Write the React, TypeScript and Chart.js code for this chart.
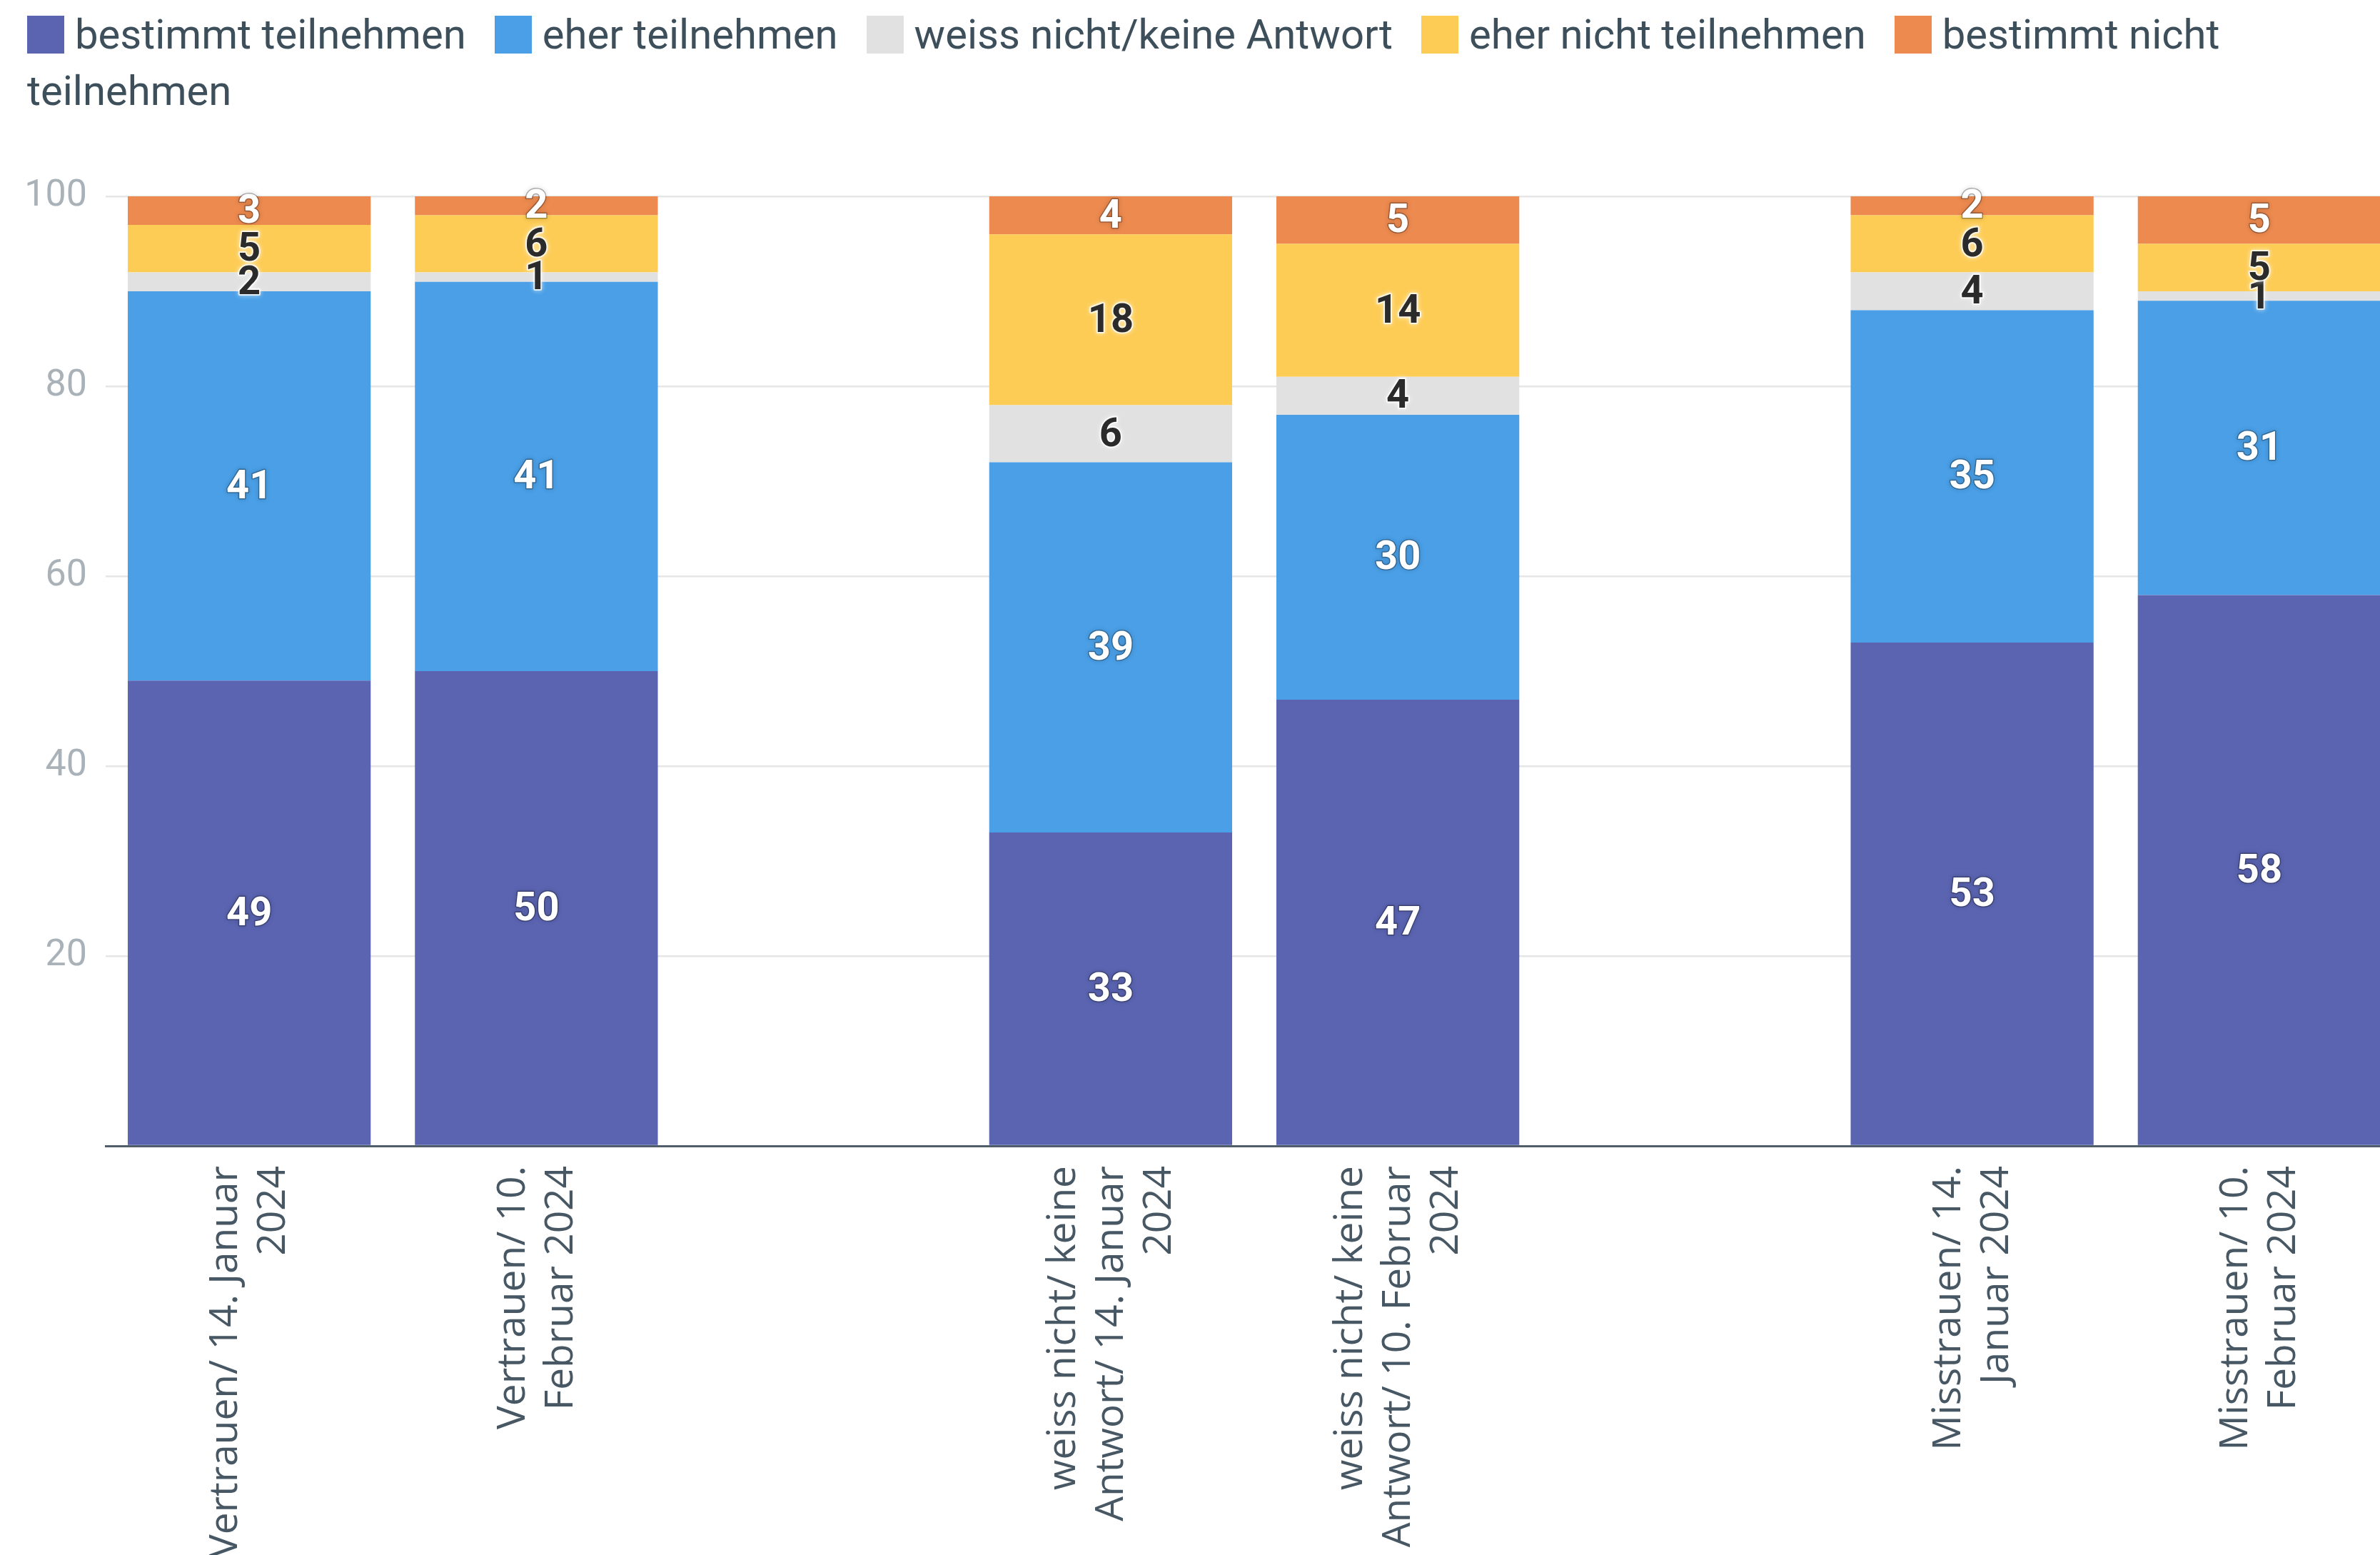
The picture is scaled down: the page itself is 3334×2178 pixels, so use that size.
import React, { useEffect, useRef } from "react";
import { Chart, registerables } from "chart.js";

Chart.register(...registerables);

// ---------- data ----------
const categories: string[][] = [
  ["Vertrauen/ 14. Januar", "2024"],
  ["Vertrauen/ 10.", "Februar 2024"],
  [],
  ["weiss nicht/ keine", "Antwort/ 14. Januar", "2024"],
  ["weiss nicht/ keine", "Antwort/ 10. Februar", "2024"],
  [],
  ["Misstrauen/ 14.", "Januar 2024"],
  ["Misstrauen/ 10.", "Februar 2024"],
];

const seriesNames = [
  "bestimmt teilnehmen",
  "eher teilnehmen",
  "weiss nicht/keine Antwort",
  "eher nicht teilnehmen",
  "bestimmt nicht teilnehmen",
];

const bestimmtTeilnehmen = [49, 50, null, 33, 47, null, 53, 58];
const eherTeilnehmen = [41, 41, null, 39, 30, null, 35, 31];
const weissNicht = [2, 1, null, 6, 4, null, 4, 1];
const eherNichtTeilnehmen = [5, 6, null, 18, 14, null, 6, 5];
const bestimmtNichtTeilnehmen = [3, 2, null, 4, 5, null, 2, 5];

const seriesValues = [
  bestimmtTeilnehmen,
  eherTeilnehmen,
  weissNicht,
  eherNichtTeilnehmen,
  bestimmtNichtTeilnehmen,
];

const seriesColors = ["#5a64b1", "#4a9fe6", "#e1e1e1", "#fdcc55", "#ed8a4f"];
const labelIsDark = [false, false, true, true, false];

const yMin = 0;
const yMax = 100;
const yStep = 20;

// ---------- plugins ----------
const xLabelPlugin = {
  id: "xLabelPlugin",
  afterDraw(chart: any) {
    const { ctx } = chart;
    const x = chart.scales.x;
    const lh = 67;
    ctx.save();
    ctx.font = '55px "Open Sans"';
    ctx.fillStyle = "#475864";
    ctx.textAlign = "right";
    ctx.textBaseline = "middle";
    categories.forEach((lines, i) => {
      if (!lines.length) return;
      const px = x.getPixelForValue(i);
      const n = lines.length;
      lines.forEach((line, k) => {
        ctx.save();
        ctx.translate(px + (k - (n - 1) / 2) * lh + 1, x.top + 28);
        ctx.rotate(-Math.PI / 2);
        ctx.fillText(line, 0, 0);
        ctx.restore();
      });
    });
    ctx.restore();
  },
};

const dataLabelPlugin = {
  id: "dataLabelPlugin",
  afterDatasetsDraw(chart: any) {
    const { ctx } = chart;
    ctx.save();
    ctx.font = 'bold 56px Roboto';
    ctx.textAlign = "center";
    ctx.textBaseline = "middle";
    ctx.lineJoin = "round";
    chart.data.datasets.forEach((ds: any, di: number) => {
      const meta = chart.getDatasetMeta(di);
      meta.data.forEach((el: any, i: number) => {
        const v = ds.data[i];
        if (v == null) return;
        const p = el.getProps(["x", "y", "base"], true);
        const cy = (p.y + p.base) / 2 + 3;
        const txt = String(v);
        if (labelIsDark[di]) {
          ctx.shadowColor = "rgba(255,255,255,0.9)";
          ctx.shadowBlur = 6;
          ctx.strokeStyle = "rgba(255,255,255,0.75)";
          ctx.lineWidth = 4;
          ctx.strokeText(txt, p.x, cy);
          ctx.shadowBlur = 0;
          ctx.fillStyle = "#2b2b2b";
          ctx.fillText(txt, p.x, cy);
        } else {
          ctx.shadowColor = "rgba(0,0,0,0.6)";
          ctx.shadowBlur = 6;
          ctx.strokeStyle = "rgba(0,0,0,0.3)";
          ctx.lineWidth = 3;
          ctx.strokeText(txt, p.x, cy);
          ctx.shadowBlur = 0;
          ctx.fillStyle = "#ffffff";
          ctx.fillText(txt, p.x, cy);
        }
      });
    });
    ctx.restore();
  },
};

const CANVAS_W = 3400;
const CANVAS_H = 2178;

export default function App() {
  const ref = useRef<HTMLCanvasElement | null>(null);

  useEffect(() => {
    if (!ref.current) return;
    const chart = new Chart(ref.current, {
      type: "bar",
      data: {
        labels: categories.map((c, i) => (c.length ? c.join(" ") : " ".repeat(i + 1))),
        datasets: seriesNames.map((name, i) => ({
          label: name,
          data: seriesValues[i],
          backgroundColor: seriesColors[i],
          borderWidth: 0,
          categoryPercentage: 1,
          barPercentage: 0.846,
        })),
      },
      options: {
        responsive: false,
        animation: false,
        events: [],
        layout: { padding: { left: 0, right: 34, top: 275, bottom: CANVAS_H - 1605 } },
        plugins: { legend: { display: false }, tooltip: { enabled: false }, title: { display: false } },
        scales: {
          x: {
            stacked: true,
            grid: { display: false, drawTicks: false },
            ticks: { display: false },
            border: { display: true, color: "#4f5e6a", width: 3 },
          },
          y: {
            stacked: true,
            min: yMin,
            max: yMax,
            ticks: {
              stepSize: yStep,
              padding: 26,
              color: "#a9b2b8",
              font: { family: "Roboto", size: 52 },
              callback: (v: any) => (v === 0 ? "" : String(v)),
            },
            grid: { color: "#e6e6e6", lineWidth: 2.5, drawTicks: false },
            border: { display: false },
            afterFit: (s: any) => {
              s.width = 148;
            },
          },
        },
      } as any,
      plugins: [dataLabelPlugin, xLabelPlugin],
    });
    return () => chart.destroy();
  }, []);

  return (
    <div style={{ position: "relative", width: 3334, height: 2178, overflow: "hidden", background: "#fff" }}>
      <style>{"body{margin:0;overflow:hidden;}"}</style>
      <canvas
        ref={ref}
        width={CANVAS_W}
        height={CANVAS_H}
        style={{ position: "absolute", left: 0, top: 0, width: CANVAS_W, height: CANVAS_H }}
      />
      <div
        style={{
          position: "absolute",
          left: 38,
          top: 0,
          width: 3280,
          paddingTop: 9,
          fontFamily: "Roboto",
          fontSize: 58,
          lineHeight: "79px",
          color: "#3e4f5c",
        }}
      >
        {seriesNames.map((n, i) => (
          <span key={i} style={{ marginRight: 40 }}>
            <span
              style={{
                display: "inline-block",
                width: 52,
                height: 53,
                background: seriesColors[i],
                marginRight: 15,
                verticalAlign: -7,
              }}
            />
            {n}
          </span>
        ))}
      </div>
    </div>
  );
}
